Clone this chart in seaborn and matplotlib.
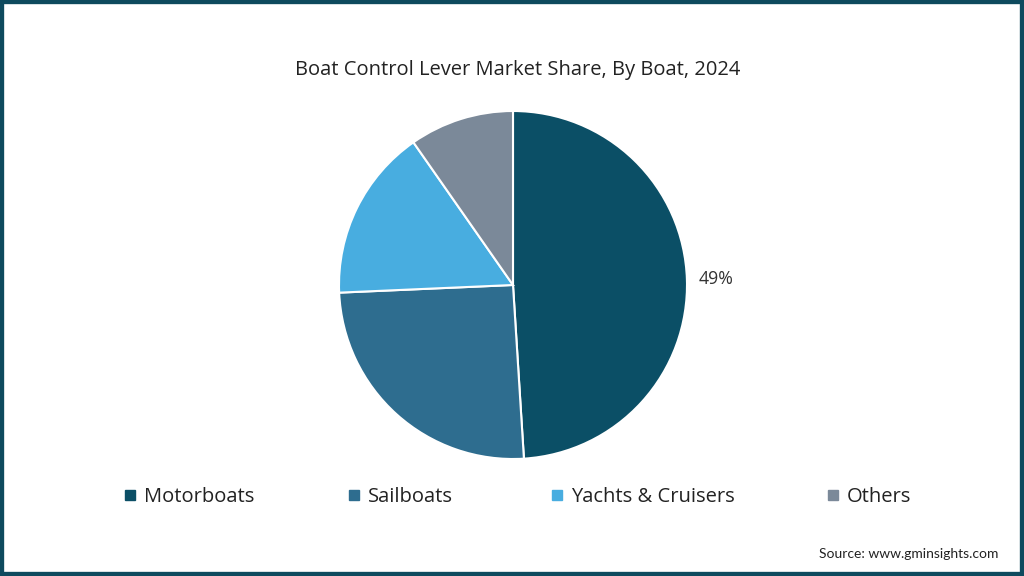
import matplotlib
matplotlib.use("Agg")
import matplotlib.pyplot as plt
from matplotlib.lines import Line2D
from matplotlib.patches import Rectangle
import seaborn as sns

boats = ["Motorboats", "Sailboats", "Yachts & Cruisers", "Others"]
shares = [49, 25.3, 16, 9.7]
colors = ["#0b4f66", "#2e6d8f", "#48ade0", "#7b8999"]

sns.set_theme(style="white")
plt.rcParams["font.family"] = ["Open Sans", "DejaVu Sans"]

fig = plt.figure(figsize=(10.24, 5.76), dpi=100)
fig.patch.set_facecolor("white")

# pie area: centre ~ (513, 285) px, radius ~ 174 px
ax = fig.add_axes([339 / 1024, (576 - 285 - 174) / 576, 348 / 1024, 348 / 576])
ax.pie(
    shares,
    colors=colors,
    startangle=90,
    counterclock=False,
    autopct=lambda p: f"{p:.0f}%" if p > 40 else "",
    pctdistance=1.17,
    wedgeprops=dict(edgecolor="white", linewidth=1.5),
    textprops=dict(fontsize=12.8, color="#333333"),
)
ax.set_xlim(-1, 1)
ax.set_ylim(-1, 1)
ax.set_aspect("equal")
ax.axis("off")

fig.text(0.5 + 6 / 1024, 1 - 70 / 576, "Boat Control Lever Market Share, By Boat, 2024",
         ha="center", va="center", fontsize=14.5, color="#222222")

# one legend entry per column, placed at the marker positions of the reference
marker_x = [122, 346, 549, 825]
for name, c, x in zip(boats, colors, marker_x):
    h = Line2D([], [], marker="s", linestyle="", markersize=7.5, color=c)
    fig.legend([h], [name], loc="center left", bbox_to_anchor=(x / 1024, 1 - 497 / 576),
               frameon=False, fontsize=14.5, borderaxespad=0, borderpad=0,
               handletextpad=0.3, handlelength=0.8, labelcolor="#222222")

fig.text(998 / 1024, 1 - 554 / 576, "Source: www.gminsights.com",
         ha="right", va="center", fontsize=10, color="#222222", family=["Lato", "DejaVu Sans"])

# dark frame round the picture
fig.add_artist(Rectangle((0, 0), 1, 1, transform=fig.transFigure, fill=False,
                         edgecolor="#0e4a5e", linewidth=6, clip_on=False))

fig.savefig("out.png", dpi=100)
